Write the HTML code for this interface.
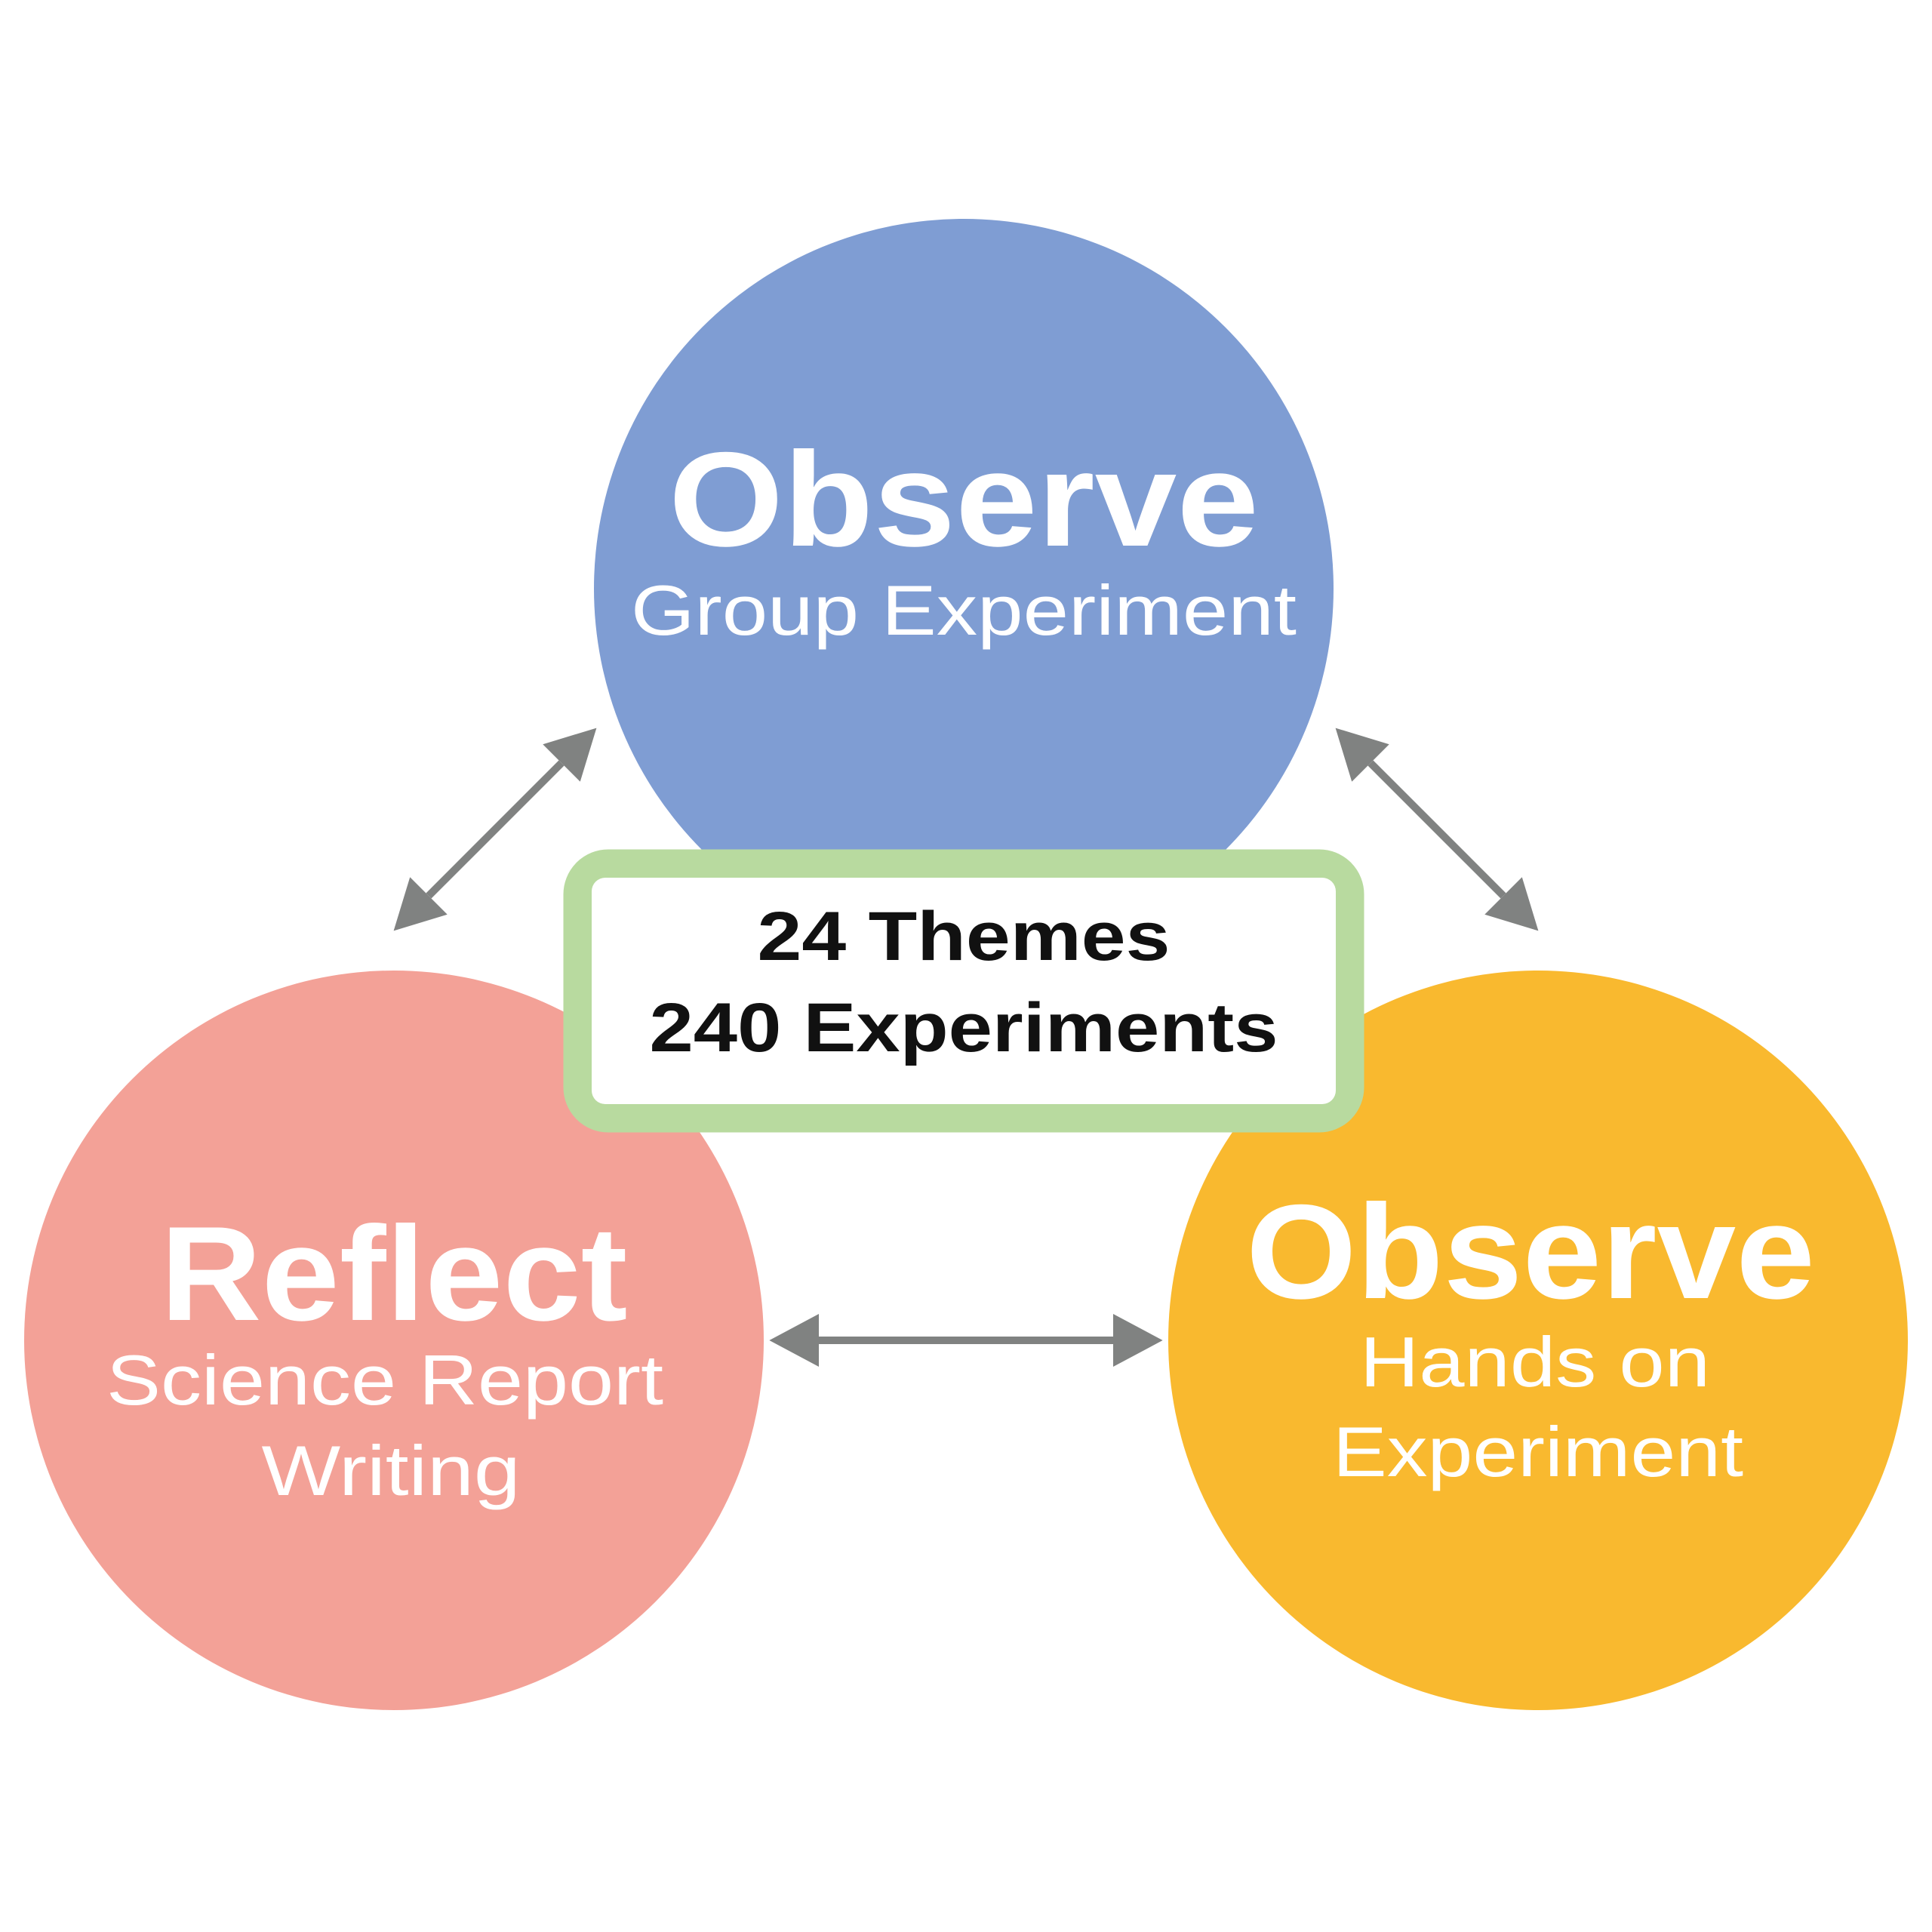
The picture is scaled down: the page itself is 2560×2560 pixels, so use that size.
<!DOCTYPE html>
<html><head><meta charset="utf-8"><style>html,body{margin:0;padding:0;background:#fff}svg{display:block}</style></head>
<body>
<svg width="2560" height="2560" viewBox="0 0 2560 2560" xmlns="http://www.w3.org/2000/svg">
<defs>
<marker id="ah" markerUnits="userSpaceOnUse" markerWidth="70" markerHeight="70" refX="0" refY="32" orient="auto-start-reverse" viewBox="0 0 60 64">
<polygon points="0,0 60,32 0,64" fill="#808281"/>
</marker>
</defs>
<rect width="2560" height="2560" fill="#fff"/>
<circle cx="1277" cy="780" r="490" fill="#7f9dd3"/>
<circle cx="522" cy="1776" r="490" fill="#f3a197"/>
<circle cx="2038" cy="1776" r="490" fill="#f9b92f"/>
<g stroke="#808281" stroke-width="10" fill="none" stroke-linecap="butt">
<line x1="568" y1="1187" x2="744" y2="1011" marker-start="url(#ah)" marker-end="url(#ah)"/>
<line x1="1816" y1="1011" x2="1992" y2="1187" marker-start="url(#ah)" marker-end="url(#ah)"/>
<line x1="1085" y1="1776" x2="1475" y2="1776" marker-start="url(#ah)" marker-end="url(#ah)"/>
</g>
<rect x="766" y="1145" width="1022" height="336" rx="40" fill="#fff" stroke="#b8da9f" stroke-width="39"/>
<rect x="784" y="1163" width="986" height="300" rx="18" fill="#fff"/>
<g font-family="Liberation Sans, sans-serif" font-weight="bold" text-anchor="middle">
<text x="1277" y="1272" font-size="92" fill="#111" textLength="547" lengthAdjust="spacingAndGlyphs">24 Themes</text>
<text x="1277" y="1393" font-size="92" fill="#111" textLength="833" lengthAdjust="spacingAndGlyphs">240 Experiments</text>
<text x="1277" y="723" font-size="178" fill="#fff" textLength="782" lengthAdjust="spacingAndGlyphs">Observe</text>
<text x="522" y="1749" font-size="178" fill="#fff" textLength="619" lengthAdjust="spacingAndGlyphs">Reflect</text>
<text x="2028" y="1720" font-size="178" fill="#fff" textLength="754" lengthAdjust="spacingAndGlyphs">Observe</text>
</g>
<g font-family="Liberation Sans, sans-serif" text-anchor="middle" fill="#fff" font-size="94">
<text x="1277" y="841" textLength="882" lengthAdjust="spacingAndGlyphs">Group Experiment</text>
<text x="510" y="1861" textLength="738" lengthAdjust="spacingAndGlyphs">Science Report</text>
<text x="518" y="1981" textLength="343" lengthAdjust="spacingAndGlyphs">Writing</text>
<text x="2034" y="1837" textLength="464" lengthAdjust="spacingAndGlyphs">Hands on</text>
<text x="2038" y="1956" textLength="544" lengthAdjust="spacingAndGlyphs">Experiment</text>
</g>
</svg>
</body></html>
